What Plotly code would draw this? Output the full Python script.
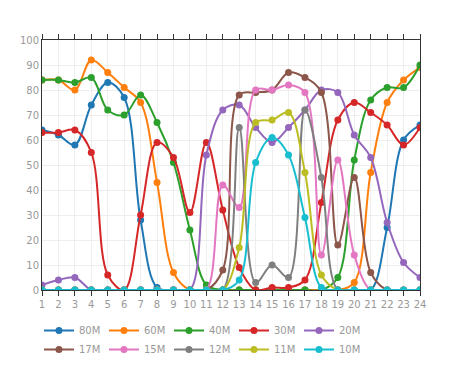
import plotly.graph_objects as go

hours = list(range(1, 25))
names = ["80M", "60M", "40M", "30M", "20M", "17M", "15M", "12M", "11M", "10M"]
colors = ["#1f77b4", "#ff7f0e", "#2ca02c", "#d62728", "#9467bd",
          "#8c564b", "#e377c2", "#7f7f7f", "#bcbd22", "#17becf"]

s80 = [64, 62, 58, 74, 83, 77, 28, 1, 0, 0, 0, 0, 0, 0, 0, 0, 0, 0, 0, 0, 0, 25, 60, 66]
s60 = [84, 84, 80, 92, 87, 81, 75, 43, 7, 0, 0, 0, 0, 0, 0, 0, 0, 0, 0, 3, 47, 75, 84, 89]
s40 = [84, 84, 83, 85, 72, 70, 78, 67, 51, 24, 2, 0, 0, 0, 0, 0, 0, 0, 5, 52, 76, 81, 81, 90]
s30 = [63, 63, 64, 55, 6, 0, 30, 59, 53, 31, 59, 32, 9, 0, 1, 1, 4, 35, 68, 75, 71, 66, 58, 65]
s20 = [2, 4, 5, 0, 0, 0, 0, 0, 0, 0, 54, 72, 74, 65, 59, 65, 72, 80, 79, 62, 53, 27, 11, 5]
s17 = [0, 0, 0, 0, 0, 0, 0, 0, 0, 0, 0, 8, 78, 79, 80, 87, 85, 79, 18, 45, 7, 0, 0, 0]
s15 = [0, 0, 0, 0, 0, 0, 0, 0, 0, 0, 0, 42, 33, 80, 80, 82, 79, 14, 52, 14, 0, 0, 0, 0]
s12 = [0, 0, 0, 0, 0, 0, 0, 0, 0, 0, 0, 0, 65, 3, 10, 5, 72, 45, 0, 0, 0, 0, 0, 0]
s11 = [0, 0, 0, 0, 0, 0, 0, 0, 0, 0, 0, 0, 17, 67, 68, 71, 47, 6, 0, 0, 0, 0, 0, 0]
s10 = [0, 0, 0, 0, 0, 0, 0, 0, 0, 0, 0, 0, 4, 51, 61, 54, 29, 1, 0, 0, 0, 0, 0, 0]
series = [s80, s60, s40, s30, s20, s17, s15, s12, s11, s10]

fig = go.Figure()
for i, (name, color, vals) in enumerate(zip(names, colors, series)):
    fig.add_trace(go.Scatter(
        x=hours, y=vals, name=name, mode="lines+markers",
        line=dict(color=color, width=2, shape="spline", smoothing=1),
        marker=dict(color=color, size=7),
        legend="legend" if i < 5 else "legend2",
    ))

font = dict(family="DejaVu Sans", size=10, color="#999999")
leg_common = dict(orientation="h", xanchor="left", yanchor="top",
                  entrywidth=20, entrywidthmode="pixels", font=font,
                  tracegroupgap=0, itemwidth=30, bgcolor="rgba(0,0,0,0)")
fig.update_layout(
    width=462, height=368,
    margin=dict(l=32, r=50, t=32, b=78),
    plot_bgcolor="white", paper_bgcolor="white",
    font=font,
    showlegend=True,
    legend=dict(x=-0.008, y=-0.104, **leg_common),
    legend2=dict(x=-0.008, y=-0.18, **leg_common),
)
fig.update_xaxes(range=[1, 24], tickmode="array", tickvals=hours,
                 showgrid=True, gridcolor="#eeeeee", gridwidth=1,
                 showline=True, linecolor="#333333", linewidth=1, mirror="ticks",
                 ticks="outside", ticklen=5, tickcolor="#333333",
                 zeroline=False, tickfont=font)
fig.update_yaxes(range=[0, 100], tickvals=list(range(0, 101, 10)),
                 showgrid=True, gridcolor="#eeeeee", gridwidth=1,
                 showline=True, linecolor="#333333", linewidth=1, mirror=True,
                 ticks="", zeroline=False, tickfont=font)

fig.write_html("out.html")
